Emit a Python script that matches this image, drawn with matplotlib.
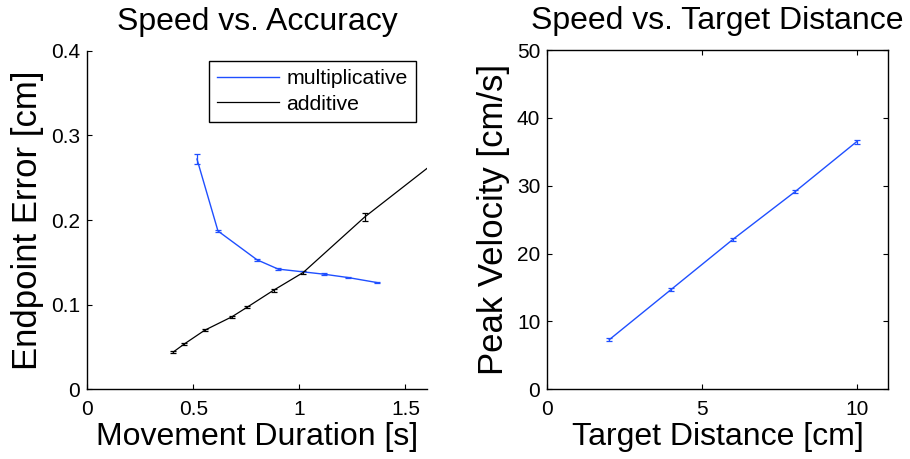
import matplotlib
matplotlib.use("Agg")
import matplotlib.pyplot as plt
from matplotlib.lines import Line2D

plt.rcParams['font.family'] = ['Liberation Sans', 'DejaVu Sans']

# ---- data: Speed vs. Accuracy ----
mult_duration = [0.517, 0.616, 0.800, 0.900, 1.115, 1.230, 1.368]
mult_error = [0.272, 0.187, 0.153, 0.142, 0.136, 0.132, 0.126]
mult_err_sd = [0.006, 0.0015, 0.001, 0.001, 0.001, 0.001, 0.001]

add_duration = [0.405, 0.457, 0.553, 0.682, 0.755, 0.878, 1.018, 1.308, 1.75]
add_error = [0.044, 0.0535, 0.0697, 0.0857, 0.0972, 0.117, 0.138, 0.2036, 0.290]
add_err_sd = [0.001, 0.001, 0.001, 0.001, 0.0015, 0.0015, 0.002, 0.005, 0.008]

# ---- data: Speed vs. Target Distance ----
target_dist = [2, 4, 6, 8, 10]
peak_vel = [7.3, 14.7, 22.1, 29.1, 36.5]
peak_vel_sd = [0.2, 0.2, 0.2, 0.2, 0.3]

left_xticks = [0, 0.5, 1, 1.5]
left_xticklabels = ['0', '0.5', '1', '1.5']
left_yticks = [0, 0.1, 0.2, 0.3, 0.4]
left_yticklabels = ['0', '0.1', '0.2', '0.3', '0.4']
right_xticks = [0, 5, 10]
right_yticks = [0, 10, 20, 30, 40, 50]
series_names = ['multiplicative', 'additive']

BLUE = '#1f4fff'
W, H = 910, 459
fig = plt.figure(figsize=(W / 100, H / 100), dpi=100)

def ax_rect(l, r, t, b):
    return [l / W, 1 - b / H, (r - l) / W, (b - t) / H]

ax1 = fig.add_axes(ax_rect(87.3, 426.7, 50.7, 389.3))
ax2 = fig.add_axes(ax_rect(547.3, 887.7, 50.0, 389.3))

TICK_FS = 15
LABEL_FS = 23
YLABEL_FS = 25

# left panel
ax1.errorbar(mult_duration, mult_error, yerr=mult_err_sd, color=BLUE, lw=1.0,
             capsize=2, elinewidth=0.9, capthick=0.9)
ax1.errorbar(add_duration, add_error, yerr=add_err_sd, color='black', lw=0.9,
             capsize=2, elinewidth=0.9, capthick=0.9)
ax1.set_xlim(0, 1.6)
ax1.set_ylim(0, 0.4)
ax1.set_xticks(left_xticks)
ax1.set_xticklabels(left_xticklabels)
ax1.set_yticks(left_yticks)
ax1.set_yticklabels(left_yticklabels)
ax1.spines['top'].set_visible(False)
ax1.spines['right'].set_visible(False)
ax1.set_title('Speed vs. Accuracy', fontsize=LABEL_FS, pad=15)
ax1.set_xlabel('Movement Duration [s]', fontsize=LABEL_FS, labelpad=2)
ax1.set_ylabel('Endpoint Error [cm]', fontsize=YLABEL_FS, labelpad=5)

handles = [Line2D([], [], color=BLUE, lw=1.0), Line2D([], [], color='black', lw=0.9)]
leg = ax1.legend(handles, series_names, loc='upper right',
                 bbox_to_anchor=(0.9685, 0.9705), borderaxespad=0,
                 fontsize=15.3, handlelength=2.9, handletextpad=0.33,
                 labelspacing=0.3, borderpad=0.4, fancybox=False, framealpha=1,
                 edgecolor='black')
leg.get_frame().set_linewidth(1.0)

# right panel
ax2.errorbar(target_dist, peak_vel, yerr=peak_vel_sd, color=BLUE, lw=1.0,
             capsize=2, elinewidth=0.9, capthick=0.9)
ax2.set_xlim(0, 11)
ax2.set_ylim(0, 50)
ax2.set_xticks(right_xticks)
ax2.set_yticks(right_yticks)
ax2.set_title('Speed vs. Target Distance', fontsize=LABEL_FS, pad=15)
ax2.set_xlabel('Target Distance [cm]', fontsize=LABEL_FS, labelpad=2)
ax2.set_ylabel('Peak Velocity [cm/s]', fontsize=YLABEL_FS, labelpad=5)

for ax in (ax1, ax2):
    for s in ax.spines.values():
        s.set_linewidth(1.0)
    ax.tick_params(direction='in', length=3.5, width=0.8, labelsize=TICK_FS)
    ax.tick_params(axis='x', pad=8)
    ax.tick_params(axis='y', pad=5)
ax2.tick_params(top=True, right=True)

fig.savefig('out.png', dpi=100)
